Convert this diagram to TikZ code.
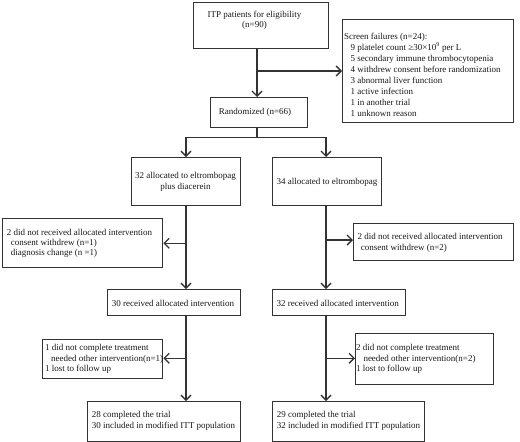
\documentclass[tikz,border=0pt]{standalone}
\usepackage{fontspec}
\setmainfont{Liberation Serif}
\usetikzlibrary{arrows.meta}
\begin{document}
\begin{tikzpicture}[x=1pt,y=-1pt,
  box/.style={draw=black!80, line width=1.35pt, inner sep=0pt, anchor=north west},
  txt/.style={inner sep=0pt, font=\fontsize{9}{10.4}\selectfont, text=black!90},
  arr/.style={draw=black!80, line width=1.35pt, -{Straight Barb[length=5pt,width=10pt,line width=1.3pt]}},
  ln/.style={draw=black!80, line width=1.35pt}]
\useasboundingbox[fill=white] (0,0) rectangle (520,442);

% boxes
\node[box, minimum width=135pt, minimum height=46pt] (itp) at (193,2) {};
\node[box, minimum width=97pt, minimum height=30pt] (rand) at (210,97) {};
\node[box, minimum width=171pt, minimum height=103pt] (scr) at (342,19) {};
\node[box, minimum width=109pt, minimum height=48pt] (a1) at (131,157) {};
\node[box, minimum width=109pt, minimum height=48pt] (a2) at (272,157) {};
\node[box, minimum width=160pt, minimum height=49pt] (eL1) at (2,218) {};
\node[box, minimum width=160pt, minimum height=37pt] (eR1) at (353,223) {};
\node[box, minimum width=133pt, minimum height=26pt] (r1) at (107,289) {};
\node[box, minimum width=133pt, minimum height=26pt] (r2) at (272,289) {};
\node[box, minimum width=120pt, minimum height=39pt] (eL2) at (42,339) {};
\node[box, minimum width=138pt, minimum height=51pt] (eR2) at (355,333) {};
\node[box, minimum width=153pt, minimum height=40pt] (b1) at (87,401) {};
\node[box, minimum width=152pt, minimum height=40pt] (b2) at (272,401) {};

% texts
\node[txt, align=center] (itpT) at (254.5,20.5) {ITP patients for eligibility\\(n=90)};
\node[txt] (randT) at (255,112) {Randomized (n=66)};
\node[txt, align=left, anchor=west, font=\fontsize{9}{11}\selectfont] (scrT) at (344,74.5) {Screen failures (n=24):\\
\hspace*{6.5pt}9 platelet count ≥30×10\textsuperscript{9} per L\\
\hspace*{6.5pt}5 secondary immune thrombocytopenia\\
\hspace*{6.5pt}4 withdrew consent before randomization\\
\hspace*{6.5pt}3 abnormal liver function\\
\hspace*{6.5pt}1 active infection\\
\hspace*{6.5pt}1 in another trial\\
\hspace*{6.5pt}1 unknown reason};
\node[txt, align=center] (a1T) at (185.5,182) {32 allocated to eltrombopag\\plus diacerein};
\node[txt] (a2T) at (327,182) {34 allocated to eltrombopag};
\node[txt, align=left, anchor=west] (eL1T) at (6.7,243.3) {2 did not received allocated intervention\\
\hspace*{4pt}consent withdrew (n=1)\\
\hspace*{4pt}diagnosis change (n =1)};
\node[txt, align=left, anchor=west] (eR1T) at (357.3,243) {2 did not received allocated intervention\\
\hspace*{3.4pt}consent withdrew (n=2)};
\node[txt] (r1T) at (173,303) {30 received allocated intervention};
\node[txt] (r2T) at (337.8,303) {32 received allocated intervention};
\node[txt, align=left, anchor=west] (eL2T) at (45,359) {1 did not complete treatment\\
\hspace*{6pt}needed other intervention(n=1)\\
1 lost to follow up};
\node[txt, align=left, anchor=west] (eR2T) at (356,359) {2 did not complete treatment\\
\hspace*{7.3pt}needed other intervention(n=2)\\
1 lost to follow up};
\node[txt, align=left, anchor=west] (b1T) at (91.7,421) {28 completed the trial\\30 included in modified ITT population};
\node[txt, align=left, anchor=west] (b2T) at (276.7,421) {29 completed the trial\\32 included in modified ITT population};

% connectors
\coordinate (spA) at (257,71);
\coordinate (spB) at (257,137.3);
\draw[arr] (itp.south -| spA) -- (rand.north -| spA);
\draw[arr] (spA) -- (scr.west |- spA);
\draw[ln] (rand.south -| spB) -- (spB);
\coordinate (l1) at (186,243.3);
\coordinate (l2) at (186,358.3);
\coordinate (q1) at (326,240);
\coordinate (q2) at (326,358.3);
\draw[arr] (spB) -| (a1.north -| l1);
\draw[arr] (spB) -| (a2.north -| q1);
\draw[arr] (a1.south -| l1) -- (r1.north -| l1);
\draw[arr] (l1) -- (eL1.east |- l1);
\draw[arr] (r1.south -| l2) -- (b1.north -| l2);
\draw[arr] (l2) -- (eL2.east |- l2);
\draw[arr] (a2.south -| q1) -- (r2.north -| q1);
\draw[arr] (q1) -- (eR1.west |- q1);
\draw[arr] (r2.south -| q2) -- (b2.north -| q2);
\draw[arr] (q2) -- (eR2.west |- q2);
\end{tikzpicture}
\end{document}
